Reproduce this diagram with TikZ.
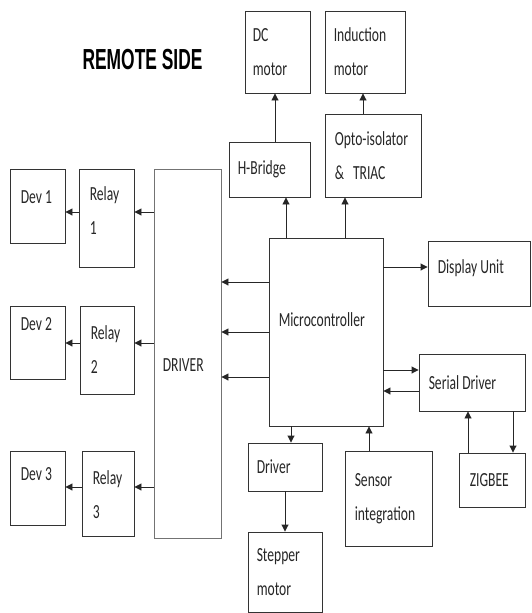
\documentclass[tikz,border=0pt]{standalone}
\usepackage{fontspec}
\setmainfont{Carlito}[FakeStretch=0.68]
\newfontfamily\headfont{Liberation Sans}[FakeStretch=0.6]
\usetikzlibrary{arrows.meta}

\begin{document}
\begin{tikzpicture}[x=1pt,y=-1pt,>={Triangle[length=7pt,width=7pt]},
  b/.style={draw=black!80,line width=0.9pt,inner sep=0pt},
  t/.style={anchor=west,xshift=9pt,inner sep=0pt,align=left,text=black!85,font=\fontsize{20}{34}\selectfont},
  tt/.style={anchor=north west,xshift=11pt,inner sep=0pt,align=left,text=black!85,font=\fontsize{20}{34}\selectfont},
  a/.style={->,line width=0.9pt,draw=black!85}]
\useasboundingbox (0,0) rectangle (531,613);
\node[font=\headfont\bfseries\fontsize{29}{29}\selectfont,inner sep=0pt] (title) at (142.5,60) {REMOTE SIDE};
% motors on top
\node[b,minimum width=65pt,minimum height=82pt,label={[t,xshift=-1pt]west:DC\\motor}] (dc) at (277.5,52) {};
\node[b,minimum width=80pt,minimum height=82pt,label={[t]west:Induction\\motor}] (ind) at (365,52) {};
\node[b,minimum width=81pt,minimum height=55pt,label={[t]west:H-Bridge}] (hb) at (269.5,169.5) {};
\node[b,minimum width=96pt,minimum height=83pt,label={[t,xshift=1pt]west:Opto-isolator\\\&\hspace{9pt}TRIAC}] (opto) at (373,155.5) {};
% relay side
\node[b,minimum width=55pt,minimum height=74pt,label={[tt,yshift=-22pt]north west:Dev 1}] (dev1) at (37.5,206) {};
\node[b,minimum width=55pt,minimum height=98pt,label={[tt,yshift=-18pt]north west:Relay\\1}] (rel1) at (106.5,218) {};
\node[b,minimum width=55pt,minimum height=73pt,label={[tt,yshift=-12pt]north west:Dev 2}] (dev2) at (37.5,342.5) {};
\node[b,minimum width=54pt,minimum height=88pt,label={[tt,yshift=-20pt]north west:Relay\\2}] (rel2) at (107,350) {};
\node[b,minimum width=55pt,minimum height=74pt,label={[tt,yshift=-17pt]north west:Dev 3}] (dev3) at (37.5,488) {};
\node[b,minimum width=52pt,minimum height=85pt,label={[tt,yshift=-20pt]north west:Relay\\3}] (rel3) at (108,493.5) {};
\node[b,draw=black!55,minimum width=67pt,minimum height=369pt,label={[t,yshift=-12pt]west:DRIVER}] (drv) at (187.5,353.5) {};
% controller and the rest
\node[b,minimum width=114pt,minimum height=188pt,label={[t,xshift=1pt,yshift=12pt]west:Microcontroller}] (mcu) at (326,332) {};
\node[b,minimum width=102pt,minimum height=65pt,label={[t,xshift=1pt,yshift=5pt]west:Display Unit}] (disp) at (479,273.5) {};
\node[b,minimum width=106pt,minimum height=57pt,label={[t,xshift=1pt]west:Serial Driver}] (ser) at (472,382.5) {};
\node[b,minimum width=74pt,minimum height=48pt,label={[t]west:Driver}] (sdrv) at (285,467) {};
\node[b,minimum width=74pt,minimum height=80pt,label={[t]west:Stepper\\motor}] (step) at (285,572) {};
\node[b,minimum width=87pt,minimum height=95pt,label={[t,xshift=1pt]west:Sensor\\integration}] (sens) at (388.5,498.5) {};
\node[b,minimum width=66pt,minimum height=54pt,label={[t,xshift=2pt]west:ZIGBEE}] (zig) at (492,480) {};
% connectors
\draw[a] (hb.north -| 275,0) -- (dc.south -| 275,0);
\draw[a] (opto.north -| 363,0) -- (ind.south -| 363,0);
\draw[a] (mcu.north -| 286,0) -- (hb.south -| 286,0);
\draw[a] (mcu.north -| 345,0) -- (opto.south -| 345,0);
\foreach \yy in {282,332,377}
  \draw[a] (mcu.west |- 0,\yy) -- (drv.east |- 0,\yy);
\draw[a] (drv.west |- 0,212) -- (rel1.east |- 0,212);
\draw[a] (drv.west |- 0,343) -- (rel2.east |- 0,343);
\draw[a] (drv.west |- 0,487) -- (rel3.east |- 0,487);
\draw[a] (rel1.west |- 0,212) -- (dev1.east |- 0,212);
\draw[a] (rel2.west |- 0,343) -- (dev2.east |- 0,343);
\draw[a] (rel3.west |- 0,487) -- (dev3.east |- 0,487);
\draw[a] (mcu.east |- 0,267) -- (disp.west |- 0,267);
\draw[a] (mcu.east |- 0,370) -- (ser.west |- 0,370);
\draw[a] (ser.west |- 0,391) -- (mcu.east |- 0,391);
\draw[a] (mcu.south -| 291,0) -- (sdrv.north -| 291,0);
\draw[a] (sdrv.south -| 285,0) -- (step.north -| 285,0);
\draw[a] (sens.north -| 369,0) -- (mcu.south -| 369,0);
\draw[a] (zig.north -| 468,0) -- (ser.south -| 468,0);
\draw[a] (ser.south -| 513,0) -- (zig.north -| 513,0);
\end{tikzpicture}
\end{document}
